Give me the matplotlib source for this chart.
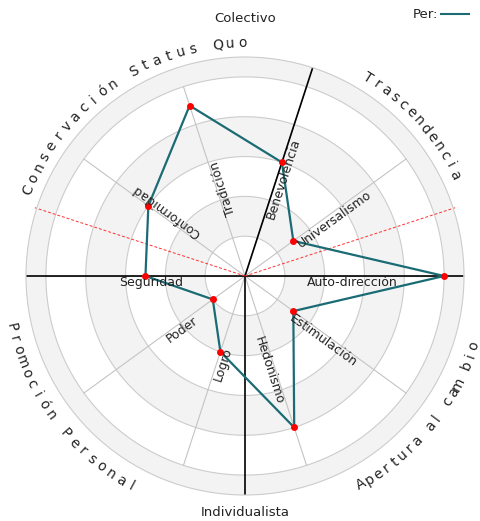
import numpy as np
import matplotlib.pyplot as plt

# ---------- data ----------
categories = ['Auto-dirección', 'Universalismo', 'Benevolencia', 'Tradición', 'Conformidad',
              'Seguridad', 'Poder', 'Logro', 'Hedonismo', 'Estimulación']
angles_deg = [0, 36, 72, 108, 144, 180, 216, 252, 288, 324]
values = [5.0, 1.5, 3.0, 4.5, 3.0, 2.5, 1.0, 2.0, 4.0, 1.5]
series_name = 'Per:'

# curved group names: (text, start angle, end angle, clockwise)
groups = [
    ('Conservación Status Quo', 158.4, 90.6, True),
    ('Trascendencia', 58.1, 25.7, True),
    ('Apertura al cam bio', -60.8, -17.1, False),
    ('Promoción Personal', 192.3, 241.7, False),
]
top_label = 'Colectivo'
bottom_label = 'Individualista'

rmax = 5.5
teal = '#1b6b74'
ring_col = '#cccccc'
band_col = '#f3f3f3'

plt.rcParams['font.family'] = 'DejaVu Sans'

fig = plt.figure(figsize=(4.81, 5.21), dpi=100)
ax = fig.add_axes([26 / 481, 26 / 521, 438 / 481, 438 / 521], projection='polar')
ax.set_ylim(0, rmax)
ax.set_xticks([])
ax.set_yticks([])
ax.grid(False)
ax.spines['polar'].set_color(ring_col)
ax.spines['polar'].set_linewidth(0.8)

# alternating bands
for b, h in [(1, 1), (3, 1), (5, 0.5)]:
    ax.bar(0, h, width=2 * np.pi, bottom=b, color=band_col, edgecolor='none', zorder=0)

# rings
th = np.linspace(0, 2 * np.pi, 400)
for r in range(1, 6):
    ax.plot(th, np.full_like(th, r), color=ring_col, lw=0.8, zorder=1)

# spokes
theta = np.deg2rad(angles_deg)
for a in theta:
    ax.plot([a, a], [0, 5], color='#c4c4c4', lw=0.8, zorder=1)

# black division lines
for a in [0, 72, 180, 270]:
    ax.plot([np.deg2rad(a)] * 2, [0, rmax], color='black', lw=1.2, zorder=2)

# red dashed lines
for a in [18, 162]:
    ax.plot([np.deg2rad(a)] * 2, [0, rmax + 0.05], color='#ff3030', lw=0.7,
            ls=(0, (3, 2)), zorder=2, clip_on=False)

# data polygon
tc = np.append(theta, theta[0])
vc = np.append(values, values[0])
ax.plot(tc, vc, color=teal, lw=1.6, zorder=3)
ax.plot(theta, values, 'o', color='red', ms=5, mec='none', zorder=4)

# category labels along the spokes
label_r = {'Logro': 1.85, 'Poder': 1.62}
for name, a in zip(categories, angles_deg):
    if 180 <= a <= 270:
        rot, ha = a - 180, 'right'
    else:
        rot, ha = a, 'left'
    ax.text(np.deg2rad(a), label_r.get(name, 1.55), name, rotation=rot,
            rotation_mode='anchor', ha=ha, va='top', fontsize=9, color='#222222', zorder=5)

# curved outer labels
for text, a0, a1, cw in groups:
    n = len(text)
    step = (a1 - a0) / (n - 1)
    r_txt = 5.85 if cw else 6.0
    for i, ch in enumerate(text):
        if ch == ' ':
            continue
        a = a0 + i * step
        rot = a - 90 if cw else a + 90
        ax.text(np.deg2rad(a), r_txt, ch, rotation=rot, rotation_mode='anchor',
                ha='center', va='center', fontsize=10, color='#222222', clip_on=False)

fig.text(245 / 481, 1 - 18 / 521, top_label, ha='center', va='center', fontsize=9.5, color='#222222')
fig.text(245 / 481, 1 - 512 / 521, bottom_label, ha='center', va='center', fontsize=9.5, color='#222222')

# legend
fig.text(438 / 481, 1 - 15 / 521, series_name, ha='right', va='center', fontsize=9.5, color='#222222')
fig.add_artist(plt.Line2D([441 / 481, 469 / 481], [1 - 14 / 521] * 2, color=teal, lw=1.5))

fig.savefig('out.png', dpi=100)
